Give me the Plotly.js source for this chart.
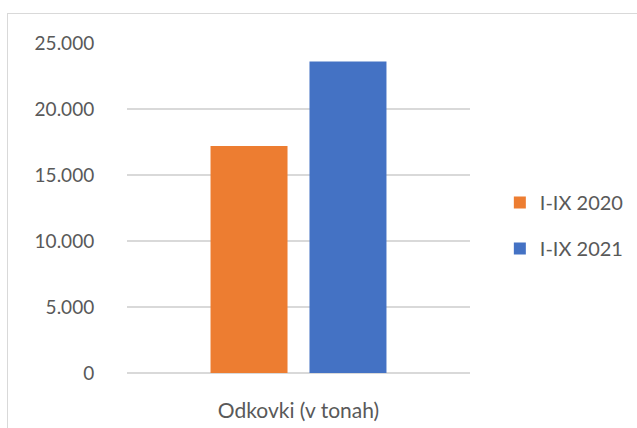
<!DOCTYPE html>
<html>
<head>
<meta charset="utf-8">
<script src="https://cdn.plot.ly/plotly-3.0.1.min.js"></script>
<style>
html,body{margin:0;padding:0;background:#fff;overflow:hidden;}
#frame{position:absolute;left:7px;top:13px;width:700px;height:500px;border:1px solid #d9d9d9;pointer-events:none;}
#chart{position:absolute;left:0;top:0;width:637px;height:428px;}
</style>
</head>
<body>
<div id="chart"></div>
<div id="frame"></div>
<script>
const categories = ["Odkovki (v tonah)"];
const seriesNames = ["I-IX 2020", "I-IX 2021"];
const values2020 = [17200];
const values2021 = [23600];
const yTicks = [0, 5000, 10000, 15000, 20000, 25000];

const font = "Lato, 'Open Sans', sans-serif";
const txt = "#595959";

const traces = [
  {type: "bar", name: seriesNames[0], x: categories, y: values2020,
   marker: {color: "#ED7D31"}, legendgroup: "a", hoverinfo: "none"},
  {type: "bar", name: seriesNames[1], x: categories, y: values2021,
   marker: {color: "#4472C4"}, legendgroup: "b", hoverinfo: "none"}
];

const layout = {
  width: 637, height: 428,
  margin: {l: 127, r: 167, t: 43, b: 55, pad: 0, autoexpand: false},
  paper_bgcolor: "#fff", plot_bgcolor: "#fff",
  separators: ",.",
  font: {family: font, color: txt, size: 19},
  barmode: "group",
  bargap: 0.423,
  bargroupgap: 0.222,
  showlegend: true,
  legend: {
    x: 1.087, y: 0.447, xanchor: "left", yanchor: "middle",
    traceorder: "grouped", tracegroupgap: 17,
    font: {family: font, color: txt, size: 20},
    itemwidth: 30
  },
  xaxis: {
    type: "category",
    showgrid: false, zeroline: false, showline: false,
    ticks: "outside", ticklen: 19, tickcolor: "rgba(0,0,0,0)",
    tickfont: {family: font, color: txt, size: 21}
  },
  yaxis: {
    range: [0, 25000],
    tickvals: yTicks,
    tickformat: ",d",
    showgrid: true, gridcolor: "#d9d9d9", gridwidth: 1.5,
    zeroline: true, zerolinecolor: "#d9d9d9", zerolinewidth: 1.5,
    showline: false,
    ticks: "outside", ticklen: 28, tickcolor: "rgba(0,0,0,0)",
    tickfont: {family: font, color: txt, size: 19}
  }
};

Plotly.newPlot("chart", traces, layout, {displayModeBar: false, staticPlot: true});
</script>
</body>
</html>
